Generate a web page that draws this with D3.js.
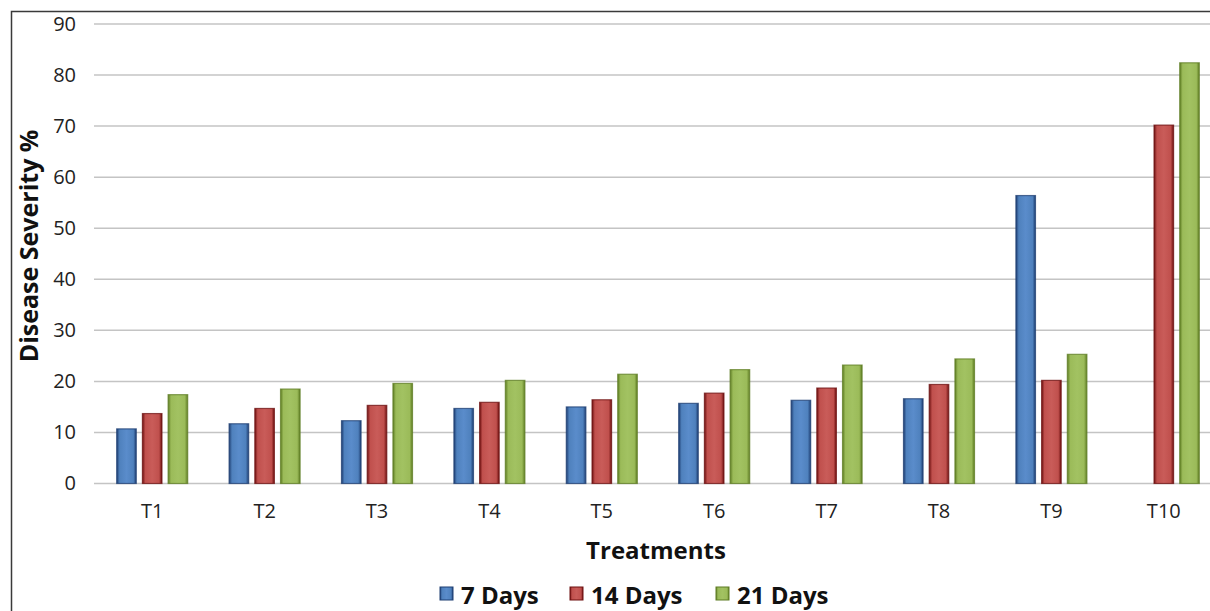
<!DOCTYPE html>
<html>
<head>
<meta charset="utf-8">
<script src="https://cdn.jsdelivr.net/npm/d3@7"></script>
<style>
  html, body { margin: 0; padding: 0; background: #fff; }
  svg { display: block; font-family: "Open Sans", sans-serif; }
</style>
</head>
<body>
<svg id="chart" width="1210" height="611"></svg>
<script>
// Treatments and disease severity (%) after 7, 14 and 21 days
const treatments = ["T1", "T2", "T3", "T4", "T5", "T6", "T7", "T8", "T9", "T10"];
const days7  = [10.7, 11.7, 12.3, 14.7, 15.0, 15.7, 16.3, 16.6, 56.4, 0];
const days14 = [13.7, 14.7, 15.3, 15.9, 16.4, 17.7, 18.7, 19.4, 20.2, 70.2];
const days21 = [17.4, 18.5, 19.6, 20.2, 21.4, 22.3, 23.2, 24.4, 25.3, 82.4];
const seriesNames = ["7 Days", "14 Days", "21 Days"];
const yTicks = [0, 10, 20, 30, 40, 50, 60, 70, 80, 90];

const series = [
  { name: seriesNames[0], values: days7,  base: "#4f81bd", light: "#5a8ccb", edge: "#1f3f73" },
  { name: seriesNames[1], values: days14, base: "#c0504d", light: "#c95c59", edge: "#6e1111" },
  { name: seriesNames[2], values: days21, base: "#9bbb59", light: "#a2c262", edge: "#5f7d24" }
];

const svg = d3.select("#chart");
const W = 1210, H = 611;

// outer chart frame
svg.append("rect")
  .attr("x", 11.5).attr("y", 11.5)
  .attr("width", W + 20).attr("height", H + 20)
  .attr("fill", "#fff").attr("stroke", "#3a3a3a").attr("stroke-width", 1.5);

const plot = { left: 96, right: 1220, top: 24, bottom: 483.5 };

const x = d3.scaleBand().domain(treatments).range([plot.left, plot.right]).paddingInner(0).paddingOuter(0);
const y = d3.scaleLinear().domain([0, 90]).range([plot.bottom, plot.top]);
const inner = d3.scaleBand().domain(seriesNames).range([-36, 36]).paddingInner(0.2);

// bar gradients: darker rims, brighter centre
const defs = svg.append("defs");
series.forEach((s, i) => {
  const g = defs.append("linearGradient").attr("id", "grad" + i)
    .attr("x1", "0").attr("x2", "1").attr("y1", "0").attr("y2", "0");
  g.append("stop").attr("offset", "0%").attr("stop-color", s.edge);
  g.append("stop").attr("offset", "15%").attr("stop-color", s.base);
  g.append("stop").attr("offset", "50%").attr("stop-color", s.light);
  g.append("stop").attr("offset", "85%").attr("stop-color", s.base);
  g.append("stop").attr("offset", "100%").attr("stop-color", s.edge);
});

// horizontal gridlines
svg.append("g")
  .selectAll("line")
  .data(yTicks)
  .join("line")
  .attr("x1", plot.left - 2).attr("x2", W)
  .attr("y1", d => y(d)).attr("y2", d => y(d))
  .attr("stroke", "#c4c4c4").attr("stroke-width", 1.5);

// y axis labels
const yAxis = d3.axisLeft(y).tickValues(yTicks).tickSize(0).tickPadding(18);
const yg = svg.append("g").attr("transform", `translate(${plot.left - 2},0)`).call(yAxis);
yg.select(".domain").remove();
yg.selectAll("text").attr("font-size", 20).attr("fill", "#222").attr("font-family", "'Open Sans', sans-serif");

// x axis labels
const xAxis = d3.axisBottom(x).tickSize(0).tickPadding(20);
const xg = svg.append("g").attr("transform", `translate(0,${plot.bottom})`).call(xAxis);
xg.select(".domain").remove();
xg.selectAll("text").attr("font-size", 20).attr("fill", "#222").attr("font-family", "'Open Sans', sans-serif");

// bars
series.forEach((s, i) => {
  svg.append("g").selectAll("rect")
    .data(s.values.map((v, j) => ({ t: treatments[j], v })).filter(d => d.v > 0))
    .join("rect")
    .attr("x", d => x(d.t) + x.bandwidth() / 2 + inner(s.name) + 0.5)
    .attr("y", d => y(d.v))
    .attr("width", inner.bandwidth() - 1)
    .attr("height", d => y(0) - y(d.v))
    .attr("fill", `url(#grad${i})`)
    .attr("stroke", s.edge).attr("stroke-opacity", 0.75).attr("stroke-width", 1.2);
});

// axis titles
svg.append("text")
  .attr("x", 656).attr("y", 559)
  .attr("text-anchor", "middle")
  .attr("font-size", 24).attr("font-weight", "bold").attr("fill", "#111")
  .text("Treatments");

svg.append("text")
  .attr("transform", "translate(38,246) rotate(-90)")
  .attr("text-anchor", "middle")
  .attr("font-size", 25).attr("font-weight", "bold").attr("fill", "#111")
  .text("Disease Severity %");

// legend
const legendItems = [
  { s: series[0], x: 440 },
  { s: series[1], x: 570 },
  { s: series[2], x: 716 }
];
const lg = svg.append("g");
legendItems.forEach(d => {
  lg.append("rect")
    .attr("x", d.x).attr("y", 587).attr("width", 13).attr("height", 13)
    .attr("fill", `url(#grad${series.indexOf(d.s)})`)
    .attr("stroke", d.s.edge).attr("stroke-width", 1);
  lg.append("text")
    .attr("x", d.x + 21).attr("y", 604)
    .attr("font-size", 24).attr("font-weight", "bold").attr("fill", "#111")
    .text(d.s.name);
});
</script>
</body>
</html>
